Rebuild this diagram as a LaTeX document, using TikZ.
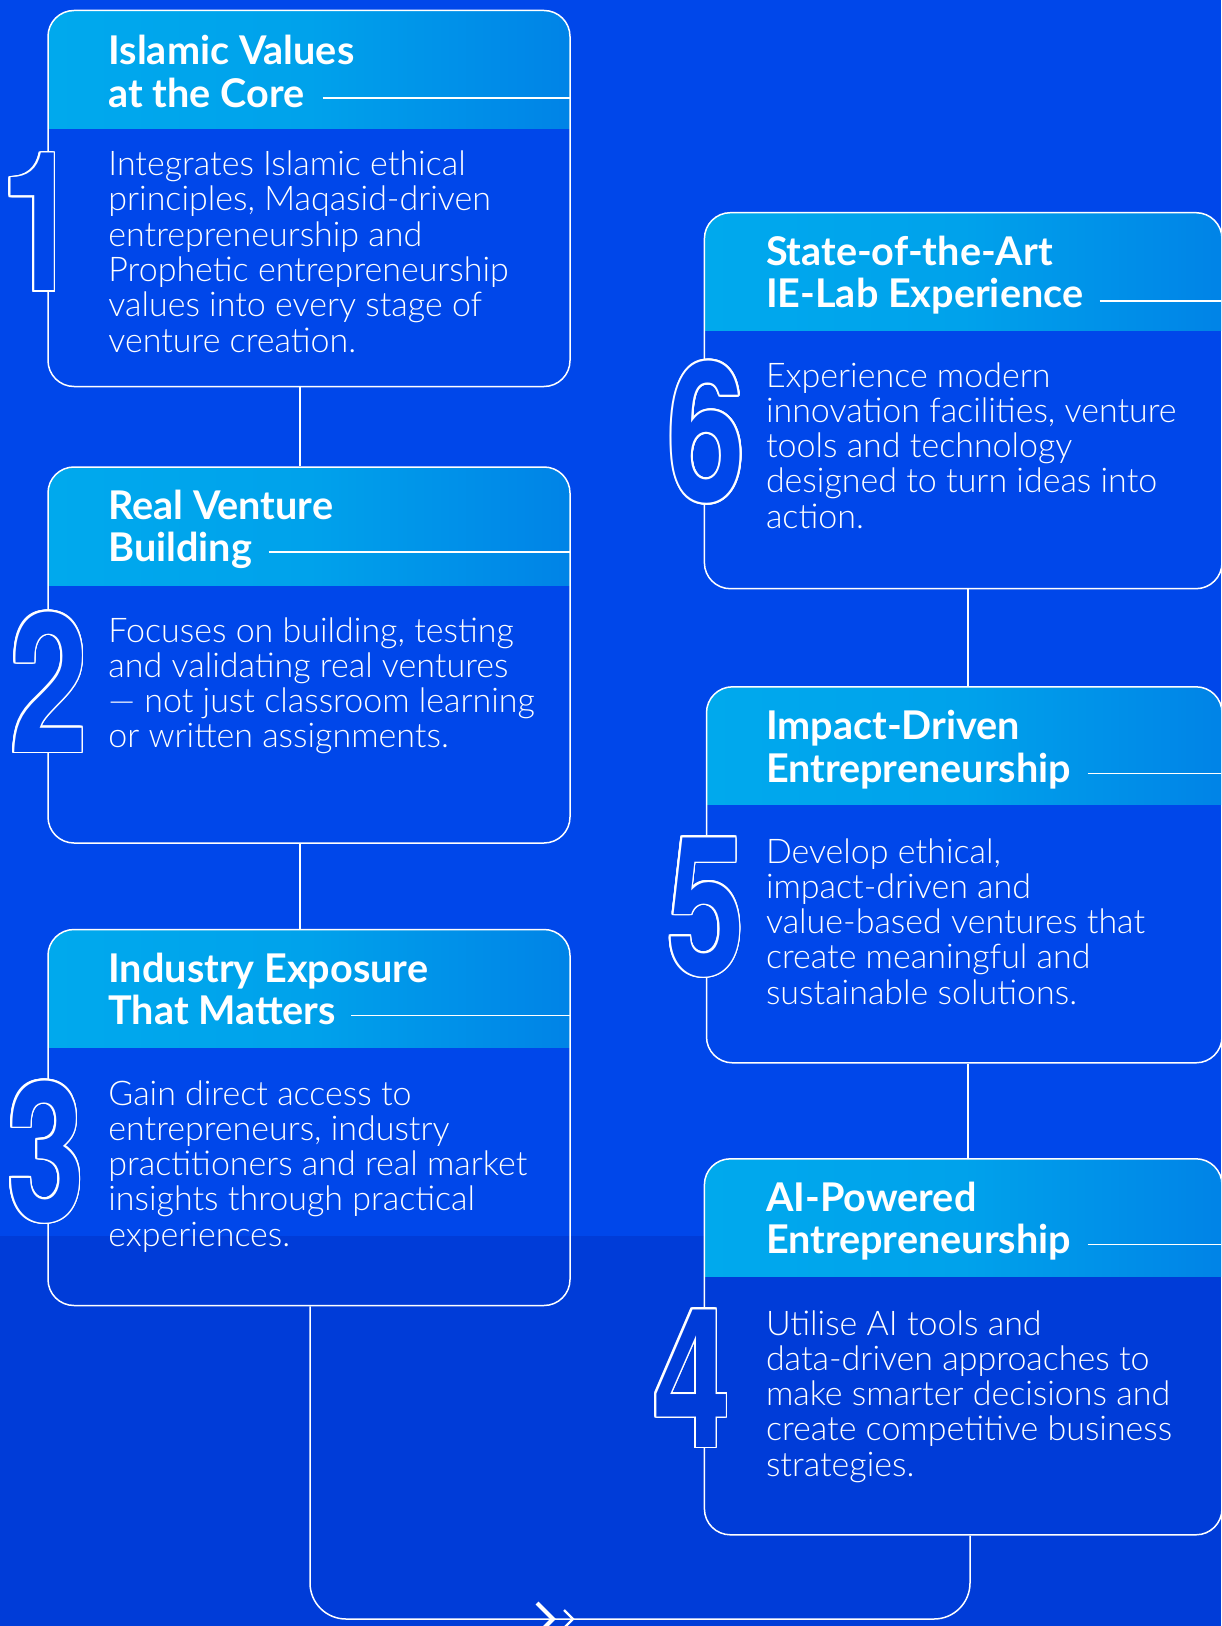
\documentclass[tikz,border=0pt]{standalone}
\usepackage{fontspec}
\setmainfont{Lato}
\IfFontExistsTF{Lato Light}{\newfontfamily\bodyfont{Lato Light}}{\newfontfamily\bodyfont{Lato}}
\newfontfamily\digitfont[FakeStretch=0.72]{TeX Gyre Heros}
\usetikzlibrary{calc}
\definecolor{bgtop}{RGB}{0,71,234}
\definecolor{bgbot}{RGB}{0,60,216}
\definecolor{hdrA}{RGB}{0,176,240}
\definecolor{hdrB}{RGB}{0,162,235}
\definecolor{hdrC}{RGB}{0,125,230}
\definecolor{hdrD}{RGB}{0,82,228}
\pgfdeclarehorizontalshading{hdr}{100bp}{color(0bp)=(hdrA); color(50bp)=(hdrB); color(80bp)=(hdrC); color(100bp)=(hdrD)}
\tikzset{
  card/.style={draw=white, line width=0.75pt, rounded corners=13pt, minimum height=188pt, inner sep=0pt,
    path picture={\shade[shading=hdr, sharp corners] (path picture bounding box.north west) rectangle ([yshift=-59pt]path picture bounding box.north east);}},
  ttl/.style={anchor=base west, inner sep=0pt, text=white, font=\fontsize{19.8}{22}\selectfont\bfseries},
  bdy/.style={anchor=base west, inner sep=0pt, text=white, align=left, font=\bodyfont\fontsize{17}{17.65}\selectfont},
  conn/.style={draw=white, line width=0.75pt},
  hrule/.style={draw=white, line width=0.75pt},
  digit/.style={anchor=base, inner sep=0pt, font=\digitfont\bfseries\fontsize{97}{97}\selectfont}
}
\newcommand\bignum[5]{%
  \node[digit, fill=#5, text=#5] (#1) at (#2,#3) {#4};
  \foreach \a in {0,20,...,340} {\node[digit, text=white] at ($(#2,#3)+(\a:1.8)$) {#4};}
  \node[digit, text=#5] at (#2,#3) {#4};}
\begin{document}
\begin{tikzpicture}[x=0.5pt, y=-0.5pt]
\useasboundingbox (0,0) rectangle (1221,1626);
\clip (0,0) rectangle (1221,1626);
\fill[bgtop] (0,0) rectangle (1221,1236);
\fill[bgbot] (0,1236) rectangle (1221,1626);

% cards
\node[card, minimum width=261pt] (b1) at (309,198.5) {};
\node[card, minimum width=261pt] (b2) at (309,655) {};
\node[card, minimum width=261pt] (b3) at (309,1117.5) {};
\node[card, minimum width=258.8pt] (b6) at (963.2,400.7) {};
\node[card, minimum width=257.75pt] (b5) at (964.25,874.8) {};
\node[card, minimum width=258.8pt] (b4) at (963.2,1346.8) {};

% connectors
\coordinate (cl) at (300,0);
\coordinate (cr) at (968,0);
\coordinate (lb) at (310,1619);
\coordinate (rb) at (970,1619);
\draw[conn] (b1.south -| cl) -- (b2.north -| cl);
\draw[conn] (b2.south -| cl) -- (b3.north -| cl);
\draw[conn] (b6.south -| cr) -- (b5.north -| cr);
\draw[conn] (b5.south -| cr) -- (b4.north -| cr);
\draw[conn, rounded corners=18pt] (b3.south -| lb) -- (lb) -- (rb) -- (b4.south -| rb);
\draw[white, line width=2pt] (537,1603) -- (553,1619) -- (537,1635);
\draw[white, line width=1.2pt] (564,1610) -- (573,1619) -- (564,1628);

% titles
\node[ttl] (t1a) at (108,65) {Islamic Values};
\node[ttl] (t1b) at (108,107.3) {at the Core};
\node[ttl] (t2a) at (108,519.7) {Real Venture};
\node[ttl] (t2b) at (108,561) {Building};
\node[ttl] (t3a) at (108,982.4) {Industry Exposure};
\node[ttl] (t3b) at (108,1024) {That Matters};
\node[ttl] (t6a) at (765.6,265.6) {State-of-the-Art};
\node[ttl] (t6b) at (765.6,307.5) {IE-Lab Experience};
\node[ttl] (t5a) at (765.6,739.7) {Impact-Driven};
\node[ttl] (t5b) at (765.6,782.2) {Entrepreneurship};
\node[ttl] (t4a) at (765.6,1211.7) {AI-Powered};
\node[ttl] (t4b) at (765.6,1253.5) {Entrepreneurship};

% title rules
\path ($(t1b.base east)+(18,-9.5)$) coordinate (r1);
\path ($(t2b.base east)+(16,-9)$) coordinate (r2);
\path ($(t3b.base east)+(15,-8.5)$) coordinate (r3);
\path ($(t6b.base east)+(16,-6.5)$) coordinate (r6);
\path ($(t5b.base east)+(16,-8.5)$) coordinate (r5);
\path ($(t4b.base east)+(16,-9)$) coordinate (r4);
\draw[hrule] (r1) -- (r1 -| b1.east);
\draw[hrule] (r2) -- (r2 -| b2.east);
\draw[hrule] (r3) -- (r3 -| b3.east);
\draw[hrule] (r6) -- (r6 -| b6.east);
\draw[hrule] (r5) -- (r5 -| b5.east);
\draw[hrule] (r4) -- (r4 -| b4.east);

% bodies (anchored at the baseline of their last line)
\node[bdy] (d1) at (108,352) {Integrates Islamic ethical\\principles, Maqasid-driven\\entrepreneurship and\\Prophetic entrepreneurship\\values into every stage of\\venture creation.};
\node[bdy] (d2) at (108,747.9) {Focuses on building, testing\\and validating real ventures\\— not just classroom learning\\or written assignments.};
\node[bdy] (d3) at (108,1246.2) {Gain direct access to\\entrepreneurs, industry\\practitioners and real market\\insights through practical\\experiences.};
\node[bdy] (d6) at (765.6,528.2) {Experience modern\\innovation facilities, venture\\tools and technology\\designed to turn ideas into\\action.};
\node[bdy] (d5) at (765.6,1004.2) {Develop ethical,\\impact-driven and\\value-based ventures that\\create meaningful and\\sustainable solutions.};
\node[bdy] (d4) at (765.6,1476.2) {Utilise AI tools and\\data-driven approaches to\\make smarter decisions and\\create competitive business\\strategies.};

% numbers
\bignum{n1}{40}{291}{1}{bgtop}
\bignum{n2}{49}{752}{2}{bgtop}
\bignum{n3}{46}{1221}{3}{bgtop}
\bignum{n6}{706.6}{501.5}{6}{bgtop}
\bignum{n5}{706}{975}{5}{bgtop}
\bignum{n4}{692}{1447}{4}{bgbot}
\end{tikzpicture}
\end{document}
